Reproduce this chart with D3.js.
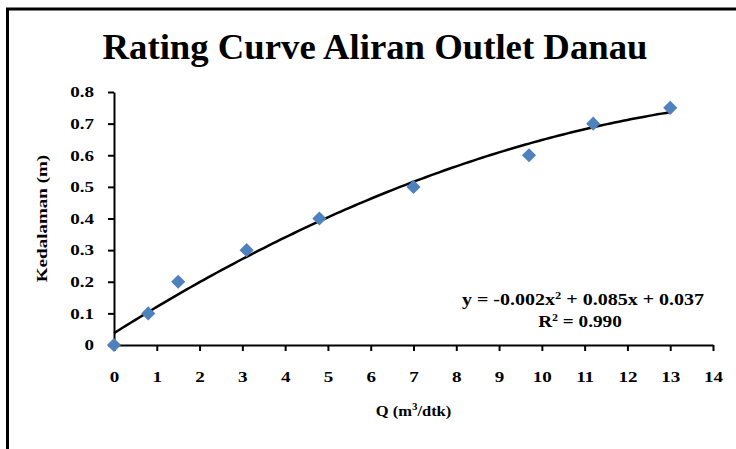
<!DOCTYPE html>
<html>
<head>
<meta charset="utf-8">
<script src="https://cdn.jsdelivr.net/npm/d3@7"></script>
<style>
  html, body { margin: 0; padding: 0; background: #fff; }
  svg { display: block; font-family: "Liberation Serif", "Times New Roman", serif; font-weight: bold; }
</style>
</head>
<body>
<div id="chart"></div>
<script>
const title = 'Rating Curve Aliran Outlet Danau';
const discharge = [0, 0.8, 1.5, 3.1, 4.8, 7.0, 9.7, 11.2, 13.0];  // Q (m3/dtk)
const depth = [0, 0.1, 0.2, 0.3, 0.4, 0.5, 0.6, 0.7, 0.75];       // Kedalaman (m)
const xTicks = d3.range(0, 15, 1);
const yTicks = [0, 0.1, 0.2, 0.3, 0.4, 0.5, 0.6, 0.7, 0.8];

const width = 736, height = 449;
const margin = {top: 92, right: 23, bottom: 104, left: 114};

const svg = d3.select('#chart').append('svg')
  .attr('width', width)
  .attr('height', height);

// the original text is drawn a bit wider than normal Times
function stretch(sel, k) {
  sel.each(function() {
    const x0 = +d3.select(this).attr('x') || 0;
    d3.select(this).attr('transform', `translate(${x0 * (1 - k)},0) scale(${k},1)`);
  });
}

// frame of the original picture
svg.append('line').attr('x1', 6).attr('x2', width).attr('y1', 9).attr('y2', 9)
  .attr('stroke', '#000').attr('stroke-width', 3);
svg.append('line').attr('x1', 7.5).attr('x2', 7.5).attr('y1', 8).attr('y2', height)
  .attr('stroke', '#000').attr('stroke-width', 3);

const x = d3.scaleLinear().domain([0, 14]).range([margin.left, width - margin.right]);
const y = d3.scaleLinear().domain([0, 0.8]).range([height - margin.bottom, margin.top]);

svg.append('text')
  .attr('x', 375).attr('y', 59)
  .attr('text-anchor', 'middle')
  .attr('font-size', 35)
  .attr('textLength', 545)
  .attr('lengthAdjust', 'spacingAndGlyphs')
  .text(title);

const xAxis = svg.append('g')
  .attr('transform', `translate(0,${y(0)})`)
  .call(d3.axisBottom(x).tickValues(xTicks).tickSize(6).tickSizeOuter(0).tickPadding(20));
const yAxis = svg.append('g')
  .attr('transform', `translate(${x(0)},0)`)
  .call(d3.axisLeft(y).tickValues(yTicks).tickSize(6).tickSizeOuter(0).tickPadding(14)
    .tickFormat(d => d === 0 ? '0' : d3.format('.1f')(d)));

[xAxis, yAxis].forEach(g => {
  g.selectAll('path').attr('stroke-width', 2);
  g.selectAll('line').attr('stroke-width', 2);
  g.selectAll('text')
    .attr('font-family', '"Liberation Serif", "Times New Roman", serif')
    .attr('font-weight', 'bold')
    .attr('font-size', 15)
    .attr('fill', '#000')
    .call(stretch, 1.27);
});

const qLabel = svg.append('text')
  .attr('x', x(7)).attr('y', 416)
  .attr('text-anchor', 'middle')
  .attr('font-size', 15);
qLabel.append('tspan').text('Q (m');
qLabel.append('tspan').attr('dy', -6).attr('font-size', 10).text('3');
qLabel.append('tspan').attr('dy', 6).text('/dtk)');
stretch(qLabel, 1.1);

svg.append('text')
  .attr('transform', `translate(47,${y(0.4)}) rotate(-90) scale(1.27,1)`)
  .attr('text-anchor', 'middle')
  .attr('font-size', 15)
  .text('Kedalaman (m)');

// quadratic least-squares trendline
function polyFit(xs, ys) {
  const n = xs.length;
  let s = [0, 0, 0, 0, 0], t = [0, 0, 0];
  for (let i = 0; i < n; i++) {
    for (let k = 0; k < 5; k++) s[k] += Math.pow(xs[i], k);
    for (let k = 0; k < 3; k++) t[k] += ys[i] * Math.pow(xs[i], k);
  }
  const A = [[s[0], s[1], s[2], t[0]], [s[1], s[2], s[3], t[1]], [s[2], s[3], s[4], t[2]]];
  for (let i = 0; i < 3; i++) {
    for (let j = i + 1; j < 3; j++) {
      const f = A[j][i] / A[i][i];
      for (let k = i; k < 4; k++) A[j][k] -= f * A[i][k];
    }
  }
  const c = [0, 0, 0];
  for (let i = 2; i >= 0; i--) {
    let v = A[i][3];
    for (let k = i + 1; k < 3; k++) v -= A[i][k] * c[k];
    c[i] = v / A[i][i];
  }
  return c;
}
const coef = polyFit(discharge, depth);
const fitPts = d3.range(0, 13.001, 0.1).map(q => [q, coef[0] + coef[1] * q + coef[2] * q * q]);

svg.append('path')
  .datum(fitPts)
  .attr('fill', 'none')
  .attr('stroke', '#000')
  .attr('stroke-width', 2.5)
  .attr('d', d3.line().x(d => x(d[0])).y(d => y(d[1])));

const diamond = d3.symbol(d3.symbolSquare, 100);
svg.append('g').selectAll('path')
  .data(discharge.map((q, i) => [q, depth[i]]))
  .join('path')
  .attr('d', diamond)
  .attr('transform', d => `translate(${x(d[0])},${y(d[1])}) rotate(45)`)
  .attr('fill', '#4F81BD');

const eq = svg.append('text')
  .attr('x', 583).attr('y', 305)
  .attr('text-anchor', 'middle')
  .attr('font-size', 16);
eq.append('tspan').text('y = -0.002x');
eq.append('tspan').attr('dy', -6).attr('font-size', 10).text('2');
eq.append('tspan').attr('dy', 6).text(' + 0.085x + 0.037');
stretch(eq, 1.25);

const r2 = svg.append('text')
  .attr('x', 580).attr('y', 327)
  .attr('text-anchor', 'middle')
  .attr('font-size', 16);
r2.append('tspan').text('R');
r2.append('tspan').attr('dy', -6).attr('font-size', 10).text('2');
r2.append('tspan').attr('dy', 6).text(' = 0.990');
stretch(r2, 1.2);
</script>
</body>
</html>
